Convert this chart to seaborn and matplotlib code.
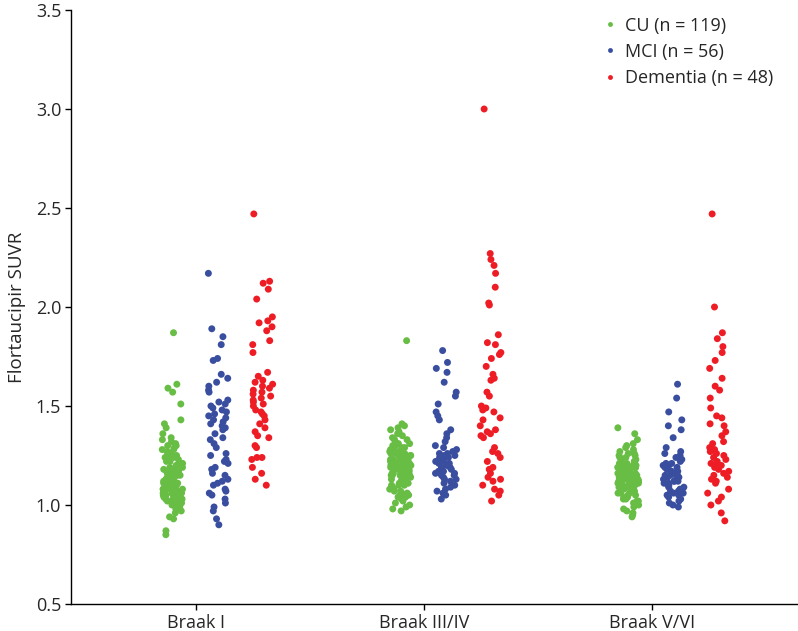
import numpy as np
import pandas as pd
import seaborn as sns
import matplotlib.pyplot as plt

# 区域与分组
regions = ['Braak I', 'Braak III/IV', 'Braak V/VI']
groups = ['CU (n = 119)', 'MCI (n = 56)', 'Dementia (n = 48)']
colors = ['#68bd45', '#3a4ea0', '#ee1d25']

# Braak I
cu_braak1 = [
    1.87, 1.61, 1.59, 1.57, 1.51, 1.43, 1.41, 1.39, 1.36, 1.34,
    1.33, 1.32, 1.31, 1.30, 1.30, 1.29, 1.28, 1.28, 1.27, 1.26,
    1.26, 1.25, 1.25, 1.24, 1.24, 1.23, 1.23, 1.22, 1.22, 1.21,
    1.21, 1.20, 1.20, 1.19, 1.19, 1.18, 1.18, 1.18, 1.17, 1.17,
    1.16, 1.16, 1.16, 1.15, 1.15, 1.15, 1.14, 1.14, 1.14, 1.13,
    1.13, 1.13, 1.12, 1.12, 1.12, 1.12, 1.11, 1.11, 1.11, 1.10,
    1.10, 1.10, 1.10, 1.09, 1.09, 1.09, 1.08, 1.08, 1.08, 1.08,
    1.07, 1.07, 1.07, 1.06, 1.06, 1.06, 1.05, 1.05, 1.05, 1.04,
    1.04, 1.04, 1.03, 1.03, 1.03, 1.02, 1.02, 1.02, 1.01, 1.01,
    1.00, 1.00, 0.99, 0.99, 0.98, 0.97, 0.96, 0.94, 0.93, 0.87,
    0.85, 1.15, 1.17, 1.19, 1.21, 1.13, 1.11, 1.09, 1.06, 1.04,
    1.14, 1.16, 1.12, 1.10, 1.08, 1.20, 1.18, 1.05, 1.02,
]
mci_braak1 = [
    2.17, 1.89, 1.85, 1.81, 1.74, 1.73, 1.66, 1.64, 1.62, 1.60,
    1.58, 1.57, 1.53, 1.52, 1.51, 1.50, 1.49, 1.48, 1.47, 1.46,
    1.45, 1.44, 1.43, 1.42, 1.41, 1.40, 1.39, 1.38, 1.36, 1.34,
    1.33, 1.31, 1.29, 1.26, 1.25, 1.23, 1.22, 1.21, 1.19, 1.18,
    1.16, 1.15, 1.13, 1.12, 1.11, 1.10, 1.08, 1.07, 1.06, 1.05,
    1.03, 1.01, 0.99, 0.97, 0.93, 0.90,
]
dem_braak1 = [
    2.47, 2.13, 2.12, 2.09, 2.04, 1.95, 1.93, 1.92, 1.90, 1.88,
    1.83, 1.81, 1.77, 1.67, 1.65, 1.63, 1.62, 1.61, 1.60, 1.59,
    1.58, 1.57, 1.56, 1.55, 1.54, 1.53, 1.52, 1.51, 1.50, 1.48,
    1.47, 1.46, 1.45, 1.43, 1.41, 1.39, 1.37, 1.35, 1.34, 1.30,
    1.29, 1.24, 1.24, 1.23, 1.19, 1.16, 1.13, 1.10,
]

# Braak III/IV
cu_braak34 = [
    1.83, 1.41, 1.40, 1.39, 1.38, 1.37, 1.36, 1.35, 1.34, 1.33,
    1.33, 1.32, 1.31, 1.31, 1.30, 1.30, 1.29, 1.29, 1.28, 1.28,
    1.27, 1.27, 1.27, 1.26, 1.26, 1.26, 1.25, 1.25, 1.25, 1.24,
    1.24, 1.24, 1.24, 1.23, 1.23, 1.23, 1.23, 1.22, 1.22, 1.22,
    1.22, 1.22, 1.21, 1.21, 1.21, 1.21, 1.21, 1.20, 1.20, 1.20,
    1.20, 1.20, 1.20, 1.19, 1.19, 1.19, 1.19, 1.19, 1.18, 1.18,
    1.18, 1.18, 1.18, 1.17, 1.17, 1.17, 1.17, 1.16, 1.16, 1.16,
    1.16, 1.15, 1.15, 1.15, 1.15, 1.14, 1.14, 1.14, 1.13, 1.13,
    1.13, 1.12, 1.12, 1.12, 1.11, 1.11, 1.11, 1.10, 1.10, 1.10,
    1.09, 1.09, 1.08, 1.08, 1.07, 1.07, 1.06, 1.06, 1.05, 1.05,
    1.04, 1.04, 1.03, 1.02, 1.01, 1.00, 0.99, 0.98, 0.97, 1.20,
    1.19, 1.21, 1.18, 1.22, 1.17, 1.23, 1.16, 1.24, 1.15,
]
mci_braak34 = [
    1.78, 1.72, 1.69, 1.67, 1.62, 1.57, 1.55, 1.51, 1.47, 1.45,
    1.43, 1.38, 1.36, 1.34, 1.32, 1.30, 1.29, 1.28, 1.27, 1.26,
    1.26, 1.25, 1.25, 1.24, 1.24, 1.23, 1.23, 1.22, 1.22, 1.21,
    1.21, 1.20, 1.20, 1.19, 1.19, 1.18, 1.18, 1.17, 1.17, 1.16,
    1.16, 1.15, 1.15, 1.14, 1.13, 1.13, 1.12, 1.11, 1.10, 1.09,
    1.08, 1.07, 1.06, 1.05, 1.03, 1.20,
]
dem_braak34 = [
    3.00, 2.27, 2.24, 2.21, 2.17, 2.10, 2.02, 2.01, 1.86, 1.82,
    1.81, 1.77, 1.76, 1.74, 1.70, 1.66, 1.64, 1.63, 1.57, 1.55,
    1.50, 1.49, 1.48, 1.47, 1.44, 1.43, 1.40, 1.38, 1.37, 1.36,
    1.35, 1.34, 1.29, 1.27, 1.26, 1.24, 1.22, 1.19, 1.18, 1.16,
    1.14, 1.13, 1.12, 1.10, 1.08, 1.07, 1.05, 1.02,
]

# Braak V/VI
cu_braak56 = [
    1.39, 1.36, 1.33, 1.31, 1.30, 1.29, 1.28, 1.27, 1.26, 1.26,
    1.25, 1.25, 1.24, 1.24, 1.23, 1.23, 1.22, 1.22, 1.22, 1.21,
    1.21, 1.21, 1.20, 1.20, 1.20, 1.19, 1.19, 1.19, 1.19, 1.18,
    1.18, 1.18, 1.18, 1.17, 1.17, 1.17, 1.17, 1.17, 1.16, 1.16,
    1.16, 1.16, 1.16, 1.15, 1.15, 1.15, 1.15, 1.15, 1.14, 1.14,
    1.14, 1.14, 1.14, 1.14, 1.13, 1.13, 1.13, 1.13, 1.13, 1.12,
    1.12, 1.12, 1.12, 1.12, 1.11, 1.11, 1.11, 1.11, 1.10, 1.10,
    1.10, 1.10, 1.09, 1.09, 1.09, 1.08, 1.08, 1.08, 1.07, 1.07,
    1.07, 1.06, 1.06, 1.06, 1.05, 1.05, 1.04, 1.04, 1.03, 1.03,
    1.02, 1.02, 1.01, 1.00, 0.99, 0.98, 0.97, 0.96, 0.95, 0.94,
    1.14, 1.15, 1.13, 1.16, 1.12, 1.17, 1.11, 1.18, 1.10, 1.19,
    1.09, 1.20, 1.08, 1.14, 1.13, 1.15, 1.12, 1.16, 1.11,
]
mci_braak56 = [
    1.61, 1.54, 1.47, 1.43, 1.40, 1.38, 1.34, 1.29, 1.27, 1.26,
    1.25, 1.24, 1.23, 1.22, 1.21, 1.21, 1.20, 1.20, 1.19, 1.19,
    1.18, 1.18, 1.17, 1.17, 1.16, 1.16, 1.15, 1.15, 1.14, 1.14,
    1.13, 1.13, 1.12, 1.12, 1.11, 1.11, 1.10, 1.10, 1.09, 1.09,
    1.08, 1.08, 1.07, 1.07, 1.06, 1.06, 1.05, 1.05, 1.04, 1.03,
    1.02, 1.01, 1.00, 0.99, 1.15, 1.12,
]
dem_braak56 = [
    2.47, 2.00, 1.87, 1.84, 1.80, 1.77, 1.73, 1.69, 1.64, 1.60,
    1.58, 1.54, 1.49, 1.45, 1.44, 1.41, 1.40, 1.37, 1.35, 1.32,
    1.31, 1.29, 1.28, 1.27, 1.26, 1.25, 1.24, 1.23, 1.22, 1.21,
    1.20, 1.20, 1.19, 1.18, 1.17, 1.16, 1.15, 1.14, 1.13, 1.12,
    1.11, 1.08, 1.06, 1.04, 1.02, 1.00, 0.96, 0.92,
]

series = {
    (0, 0): cu_braak1, (0, 1): mci_braak1, (0, 2): dem_braak1,
    (1, 0): cu_braak34, (1, 1): mci_braak34, (1, 2): dem_braak34,
    (2, 0): cu_braak56, (2, 1): mci_braak56, (2, 2): dem_braak56,
}

# 每组相对刻度的水平偏移（原图中刻度不在组中心）
hue_offset = [-0.105, 0.095, 0.29]

rows = []
for (ri, gi), vals in series.items():
    for v in vals:
        rows.append({'x': ri + hue_offset[gi], 'suvr': v, 'group': groups[gi]})
df = pd.DataFrame(rows)

sns.set_style('ticks')
plt.rcParams['font.family'] = ['Open Sans', 'DejaVu Sans']

fig = plt.figure(figsize=(7.98, 6.31), dpi=100)
ax = fig.add_axes([71 / 798, 27 / 631, 727 / 798, 594 / 631])

np.random.seed(3)
sns.stripplot(
    data=df, x='x', y='suvr', hue='group', hue_order=groups,
    palette=dict(zip(groups, colors)), native_scale=True,
    jitter=0.24, size=5, linewidth=0, alpha=1, ax=ax,
)

ax.set_xlim(-0.55, 2.64)
ax.set_ylim(0.5, 3.5)
ax.set_yticks(np.arange(0.5, 3.51, 0.5))
ax.set_yticklabels([f'{t:.1f}' for t in np.arange(0.5, 3.51, 0.5)])
ax.set_xticks(range(len(regions)))
ax.set_xticklabels(regions)
ax.set_xlabel('')
ax.set_ylabel('Flortaucipir SUVR', fontsize=13.5, labelpad=7)
ax.tick_params(axis='both', labelsize=13, length=4, width=1, color='black', pad=3)
for side in ['left', 'bottom']:
    ax.spines[side].set_linewidth(1)
    ax.spines[side].set_color('black')
sns.despine(ax=ax)

handles, labels = ax.get_legend_handles_labels()
ax.legend(handles, labels, loc='upper left', bbox_to_anchor=(0.722, 1.004),
          frameon=False, fontsize=13, markerscale=0.7, handlelength=0.6,
          handletextpad=0.5, labelspacing=0.45, borderpad=0)

fig.savefig('out.png', dpi=100)
